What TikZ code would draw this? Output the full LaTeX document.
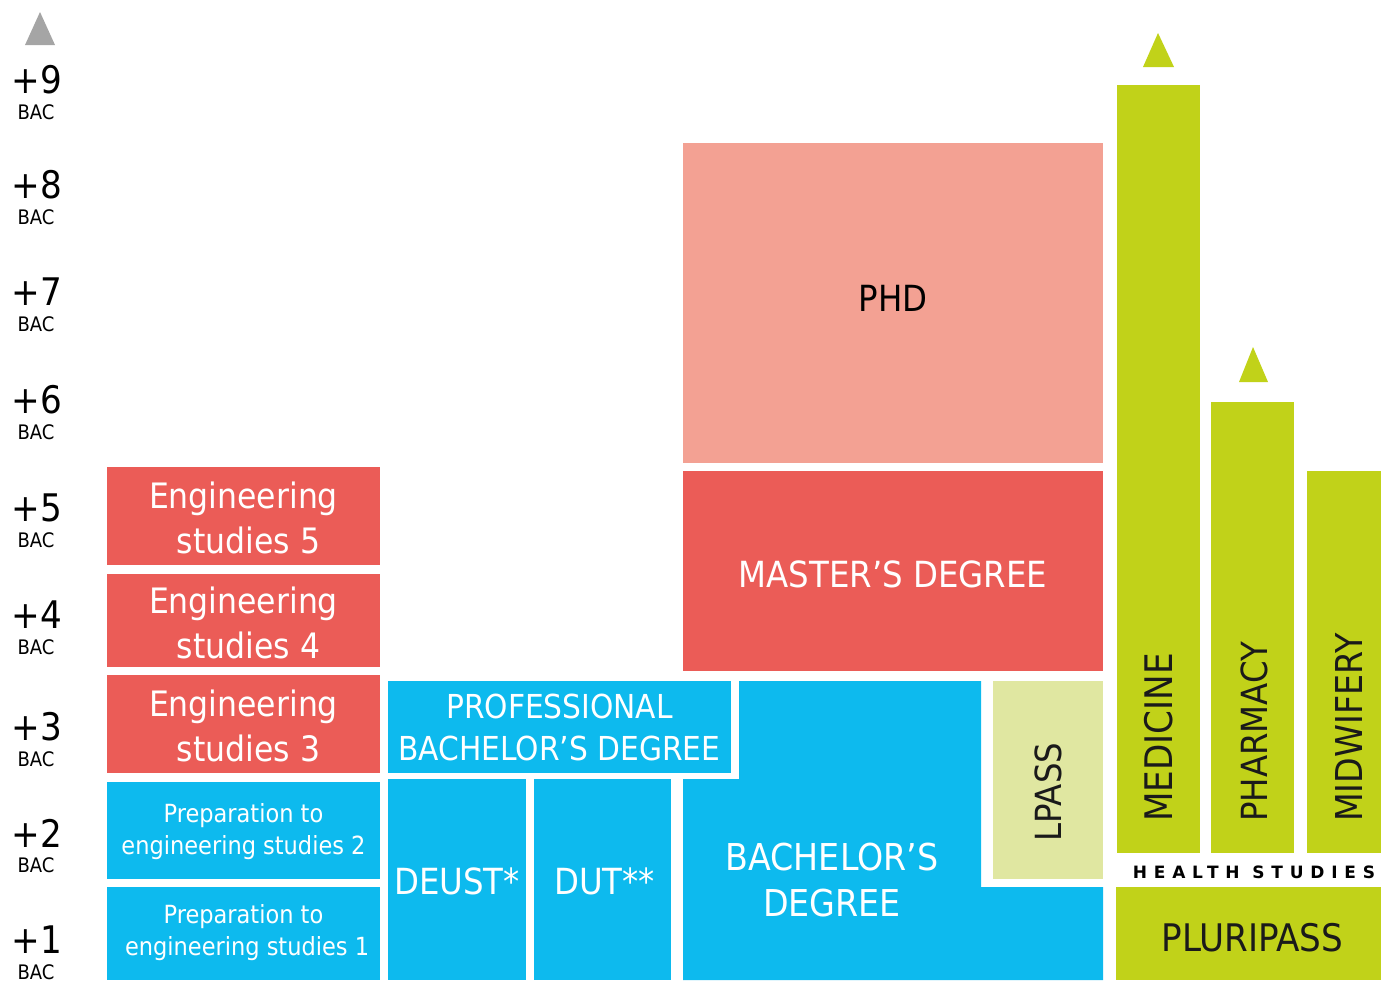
\documentclass[tikz,border=0pt]{standalone}
\usepackage{fontspec}
\setmainfont{DejaVu Sans Condensed}
\newfontfamily\hsfont[LetterSpace=40]{DejaVu Sans}
\definecolor{salmon}{HTML}{F3A193}
\definecolor{redc}{HTML}{EB5C57}
\definecolor{bluec}{HTML}{0DBAEE}
\definecolor{greenc}{HTML}{C1D219}
\definecolor{lgreen}{HTML}{E0E7A1}
\definecolor{grayc}{HTML}{A5A5A5}
\definecolor{darkt}{HTML}{1A1A1A}
\tikzset{
  blk/.style={draw=none, inner sep=0pt, align=center},
  big/.style={font=\fontsize{36}{44}\selectfont, align=center},
  eng/.style={font=\fontsize{35}{45}\selectfont, text=white, align=center},
  prep/.style={font=\fontsize{25}{32}\selectfont, text=white, align=center},
  vert/.style={rotate=90, anchor=west, inner sep=0pt, font=\fontsize{36}{40}\selectfont, text=darkt},
  plus/.style={font=\fontsize{38}{40}\selectfont, inner sep=0pt},
  bac/.style={font=\fontsize{20}{22}\selectfont, inner sep=0pt}
}
\newcommand\blk[7]{\node[blk, fill=#6, minimum width={#4-#2}, minimum height={#5-#3}] (#1) at ({(#2+#4)/2},{(#3+#5)/2}) {#7};}
\begin{document}
\begin{tikzpicture}[x=1pt,y=-1pt]
\useasboundingbox (0,0) rectangle (1381,980);
% scale on the left
\fill[grayc] (40,12) -- (55,45) -- (25,45) -- cycle;
\foreach \n/\y in {9/80,8/185,7/292,6/400,5/508,4/615,3/727,2/833,1/940}{
  \node[plus] (p\n) at (37,\y) {+\n};
  \node[bac] (b\n) at (36,\y+32) {BAC};
}
% engineering
\blk{e5}{107}{467}{380}{565}{redc}{}
\node[eng] (te5) at ([yshift=-2pt]e5) {Engineering\\ \ studies 5};
\blk{e4}{107}{574}{380}{667}{redc}{}
\node[eng] (te4) at ([yshift=-2pt]e4) {Engineering\\ \ studies 4};
\blk{e3}{107}{675}{380}{773}{redc}{}
\node[eng] (te3) at ([yshift=-2pt]e3) {Engineering\\ \ studies 3};
\blk{pr2}{107}{782}{380}{879}{bluec}{}
\node[prep] (tp2) at ([yshift=-1pt]pr2) {Preparation to\\engineering studies 2};
\blk{pr1}{107}{887}{380}{980}{bluec}{}
\node[prep] (tp1) at ([yshift=1pt]pr1) {Preparation to\\ \ engineering studies 1};
% professional bachelor
\blk{pb}{388}{681}{731}{773}{bluec}{}
\node[font=\fontsize{33}{42}\selectfont, text=white, align=center] (tpb) at (pb) {PROFESSIONAL\\BACHELOR’S DEGREE};
\blk{deust}{388}{779}{526}{980}{bluec}{}
\node[big, text=white] (tdeust) at ([yshift=-2pt]deust) {DEUST*};
\blk{dut}{534}{779}{671}{980}{bluec}{}
\node[big, text=white] (tdut) at ([xshift=2pt,yshift=-2pt]dut) {DUT**};
% bachelor L shape
\fill[bluec] (739,681) -- (981,681) -- (981,887) -- (1103,887) -- (1103,980) -- (683,980) -- (683,779) -- (739,779) -- cycle;
\node[font=\fontsize{37}{46}\selectfont, text=white, align=center] (tba) at (832,880) {BACHELOR’S\\DEGREE};
% lpass
\blk{lpass}{993}{681}{1103}{879}{lgreen}{}
\node[rotate=90, font=\fontsize{36}{40}\selectfont, text=darkt] (tlpass) at ([yshift=-12pt]lpass) {LPASS};
% master, phd
\blk{master}{683}{471}{1103}{671}{redc}{}
\node[big, text=white] (tmaster) at ([yshift=-3pt]master) {MASTER’S DEGREE};
\blk{phd}{683}{143}{1103}{463}{salmon}{}
\node[big, text=black] (tphd) at ([yshift=5pt]phd) {PHD};
% health
\fill[greenc] (1158,33) -- (1174,67) -- (1143,67) -- cycle;
\blk{med}{1117}{85}{1200}{853}{greenc}{}
\node[vert, font=\fontsize{38}{40}\selectfont] (tmed) at (1159,822) {MEDICINE};
\fill[greenc] (1253,347) -- (1268,382) -- (1239,382) -- cycle;
\blk{pha}{1211}{402}{1294}{853}{greenc}{}
\node[vert] (tpha) at (1254,822) {PHARMACY};
\blk{mid}{1307}{471}{1381}{853}{greenc}{}
\node[vert, font=\fontsize{37}{40}\selectfont] (tmid) at (1349,822) {MIDWIFERY};
\node[font=\hsfont\bfseries\fontsize{17}{20}\selectfont, inner sep=0pt] (hs) at (1254,872) {HEALTH STUDIES};
\blk{plur}{1116}{887}{1381}{980}{greenc}{}
\node[big, text=darkt, font=\fontsize{38}{44}\selectfont] (tplur) at ([xshift=4pt,yshift=-4pt]plur) {PLURIPASS};
\end{tikzpicture}
\end{document}
